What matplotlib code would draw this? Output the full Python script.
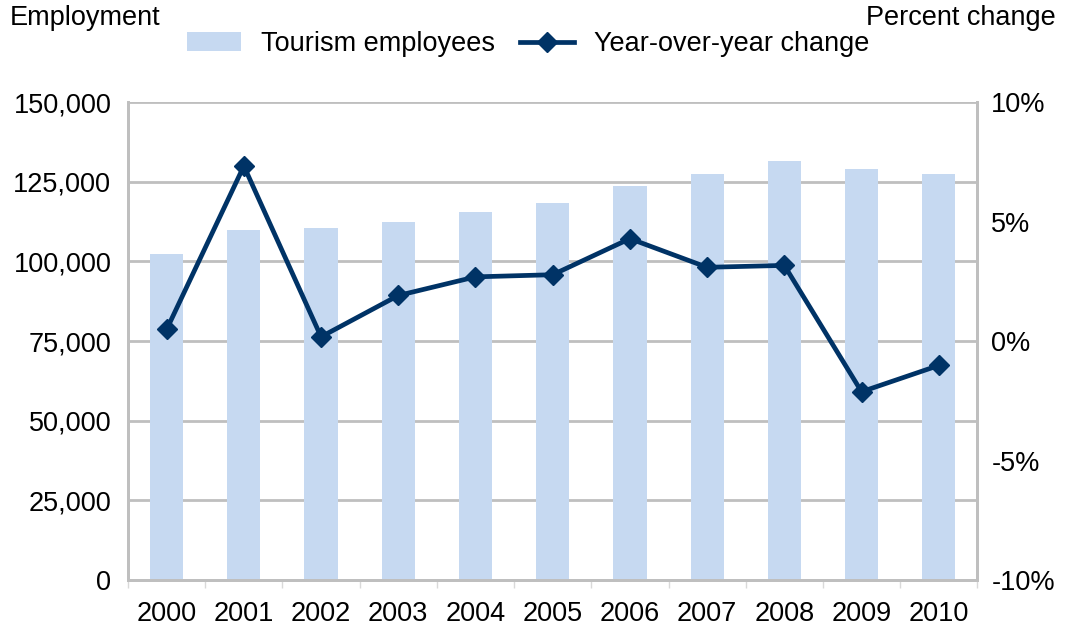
import numpy as np
import matplotlib
matplotlib.use("Agg")
from matplotlib import pyplot as plt
from matplotlib.ticker import FuncFormatter, FixedLocator

plt.rcParams["font.family"] = ["Liberation Sans", "DejaVu Sans"]

# tourism employment and its year-over-year change
years = ["2000", "2001", "2002", "2003", "2004", "2005",
         "2006", "2007", "2008", "2009", "2010"]
employees = [102500, 110000, 110400, 112400, 115400, 118500,
             123700, 127500, 131600, 128900, 127600]
yoy_change = [0.49, 7.33, 0.18, 1.91, 2.69, 2.78,
              4.29, 3.09, 3.17, -2.12, -1.02]

bar_color = "#c6d9f1"
line_color = "#003366"
grid_color = "#bfbfbf"
fs = 19.5

fig = plt.figure(figsize=(10.67, 6.29), dpi=100)
ax = fig.add_axes([0.12, 0.078, 0.796, 0.7594])
ax2 = ax.twinx()

x = np.arange(len(years))
bars = ax.bar(x, employees, width=0.43, color=bar_color, zorder=2,
              label="Tourism employees")
line, = ax2.plot(x, yoy_change, color=line_color, lw=3.4, marker="D",
                 markersize=10.5, label="Year-over-year change", zorder=3)

ax.set_xlim(-0.5, len(years) - 0.5)
ax.set_ylim(0, 150000)
ax.set_yticks(np.arange(0, 150001, 25000))
ax.yaxis.set_major_formatter(FuncFormatter(lambda v, p: f"{int(v):,}"))
ax.yaxis.grid(True, color=grid_color, lw=2, zorder=0)
ax.set_axisbelow(True)

ax2.set_ylim(-10, 10)
ax2.set_yticks([-10, -5, 0, 5, 10])
ax2.yaxis.set_major_formatter(FuncFormatter(lambda v, p: f"{int(v)}%"))

ax.set_xticks(x)
ax.set_xticklabels(years)
ax.xaxis.set_minor_locator(FixedLocator(np.arange(-0.5, len(years), 1.0)))
ax.tick_params(axis="x", which="major", length=0, pad=15, labelsize=fs)
ax.tick_params(axis="x", which="minor", length=6, width=1, color="#d9d9d9")
ax.tick_params(axis="y", length=0, pad=12, labelsize=fs)
ax2.tick_params(axis="y", length=0, pad=10, labelsize=fs)

for a in (ax, ax2):
    for side in ("left", "right", "bottom"):
        a.spines[side].set_color(grid_color)
        a.spines[side].set_linewidth(2)
    a.spines["top"].set_visible(False)

fig.text(0.009, 0.971, "Employment", fontsize=fs, ha="left", va="center")
fig.text(0.989, 0.971, "Percent change", fontsize=fs, ha="right", va="center")

fig.legend(handles=[bars, line], loc="center", bbox_to_anchor=(0.495, 0.93),
           ncol=2, frameon=False, fontsize=fs, handlelength=2.0,
           handletextpad=0.75, columnspacing=0.9)

fig.savefig("out.png", dpi=100)
